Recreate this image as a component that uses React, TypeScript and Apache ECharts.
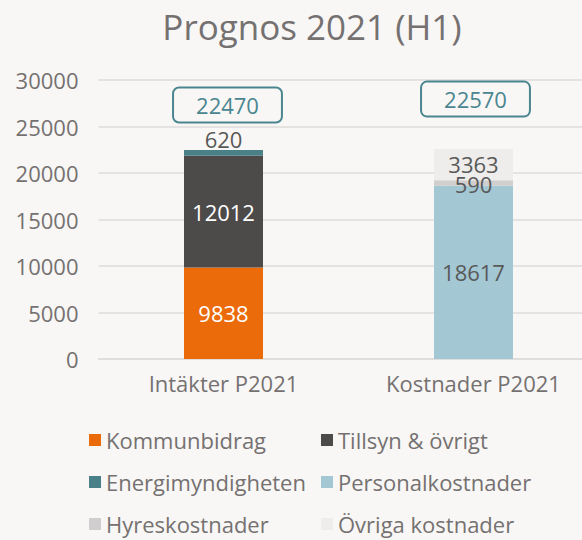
import React, { useEffect, useRef } from "react";
import * as echarts from "echarts";

const categories = ["Intäkter P2021", "Kostnader P2021"];
const kommunbidrag = [9838, null];
const tillsyn = [12012, null];
const energimyndigheten = [620, null];
const personalkostnader = [null, 18617];
const hyreskostnader = [null, 590];
const ovrigaKostnader = [null, 3363];
const totals = [22470, 22570];
const yTicks = { min: 0, max: 30000, interval: 5000 };

const FONT = "Open Sans";
const GRAY = "#757171";
const LABEL_GRAY = "#595959";

export default function App() {
  const ref = useRef<HTMLDivElement>(null);
  useEffect(() => {
    const chart = echarts.init(ref.current!, null, { renderer: "svg" });
    const seg = (name: string, data: any[], color: string, labelColor: string, pos: string = "inside", offset: number[] = [0, 0]) => ({
      name,
      type: "bar",
      stack: "s",
      data,
      barWidth: 79,
      itemStyle: { color },
      label: {
        show: true,
        position: pos,
        color: labelColor,
        fontSize: 22,
        fontFamily: FONT,
        distance: 0,
        offset,
        formatter: (p: any) => (p.value == null ? "" : String(p.value)),
      },
    });
    const totalOffsets = [[4, -45], [2, -50]];
    const legendText = { color: GRAY, fontSize: 22, fontFamily: FONT, lineHeight: 24 };
    chart.setOption({
      animation: false,
      backgroundColor: "#F8F7F5",
      textStyle: { fontFamily: FONT },
      graphic: [
        {
          type: "text",
          x: 312,
          y: 26,
          style: {
            text: "Prognos 2021 (H1)",
            fontSize: 35,
            fontFamily: FONT,
            fill: GRAY,
            textAlign: "center",
            textVerticalAlign: "middle",
          },
        },
      ],
      grid: { left: 98.5, width: 500, top: 80, bottom: 181, outerBoundsMode: "none", containLabel: false },
      xAxis: {
        type: "category",
        data: categories,
        axisLine: { show: true, lineStyle: { color: "#DEDDDB", width: 1.5 } },
        axisTick: { show: false },
        axisLabel: { color: GRAY, fontSize: 22, fontFamily: FONT, margin: 13 },
      },
      yAxis: {
        type: "value",
        min: yTicks.min,
        max: yTicks.max,
        interval: yTicks.interval,
        axisLine: { show: false },
        axisTick: { show: false },
        splitLine: { lineStyle: { color: "#DEDDDB", width: 1.5 } },
        axisLabel: {
          color: GRAY,
          fontSize: 22,
          fontFamily: FONT,
          margin: 20,
          formatter: (v: number) => String(v),
        },
      },
      legend: [
        {
          orient: "vertical",
          left: 89,
          top: 428,
          height: 140,
          padding: 0,
          itemWidth: 12,
          itemHeight: 12,
          itemGap: 18,
          icon: "rect",
          textStyle: legendText,
          data: ["Kommunbidrag", "Energimyndigheten", "Hyreskostnader"],
        },
        {
          orient: "vertical",
          left: 321,
          top: 428,
          height: 140,
          padding: 0,
          itemWidth: 12,
          itemHeight: 12,
          itemGap: 18,
          icon: "rect",
          textStyle: legendText,
          data: ["Tillsyn & övrigt", "Personalkostnader", "Övriga kostnader"],
        },
      ],
      series: [
        seg("Kommunbidrag", kommunbidrag, "#EB6A0A", "#FFFFFF"),
        seg("Tillsyn & övrigt", tillsyn, "#4D4A4A", "#FFFFFF"),
        seg("Energimyndigheten", energimyndigheten, "#4A8088", LABEL_GRAY, "top"),
        seg("Personalkostnader", personalkostnader, "#A3C7D3", LABEL_GRAY),
        seg("Hyreskostnader", hyreskostnader, "#D0CECE", LABEL_GRAY, "inside", [0, 1]),
        seg("Övriga kostnader", ovrigaKostnader, "#EEEDEC", LABEL_GRAY, "inside", [0, -1]),
        {
          name: "Totals",
          type: "scatter",
          data: totals.map((v, i) => ({
            value: [i, v],
            label: { offset: totalOffsets[i] },
          })),
          symbolSize: 2,
          itemStyle: { color: "rgba(0,0,0,0)", opacity: 1 },
          label: {
            show: true,
            position: "inside",
            color: "#4A8690",
            fontSize: 22,
            fontFamily: FONT,
            lineHeight: 24,
            borderColor: "#4A8690",
            borderWidth: 2,
            borderRadius: 6,
            padding: [6, 23, 5, 23],
            formatter: (p: any) => String(totals[p.dataIndex]),
          },
          emphasis: { disabled: true },
          z: 5,
        },
      ],
    });
    return () => chart.dispose();
  }, []);
  return <div ref={ref} style={{ width: 582, height: 540, position: "absolute", left: 0, top: 0 }} />;
}
